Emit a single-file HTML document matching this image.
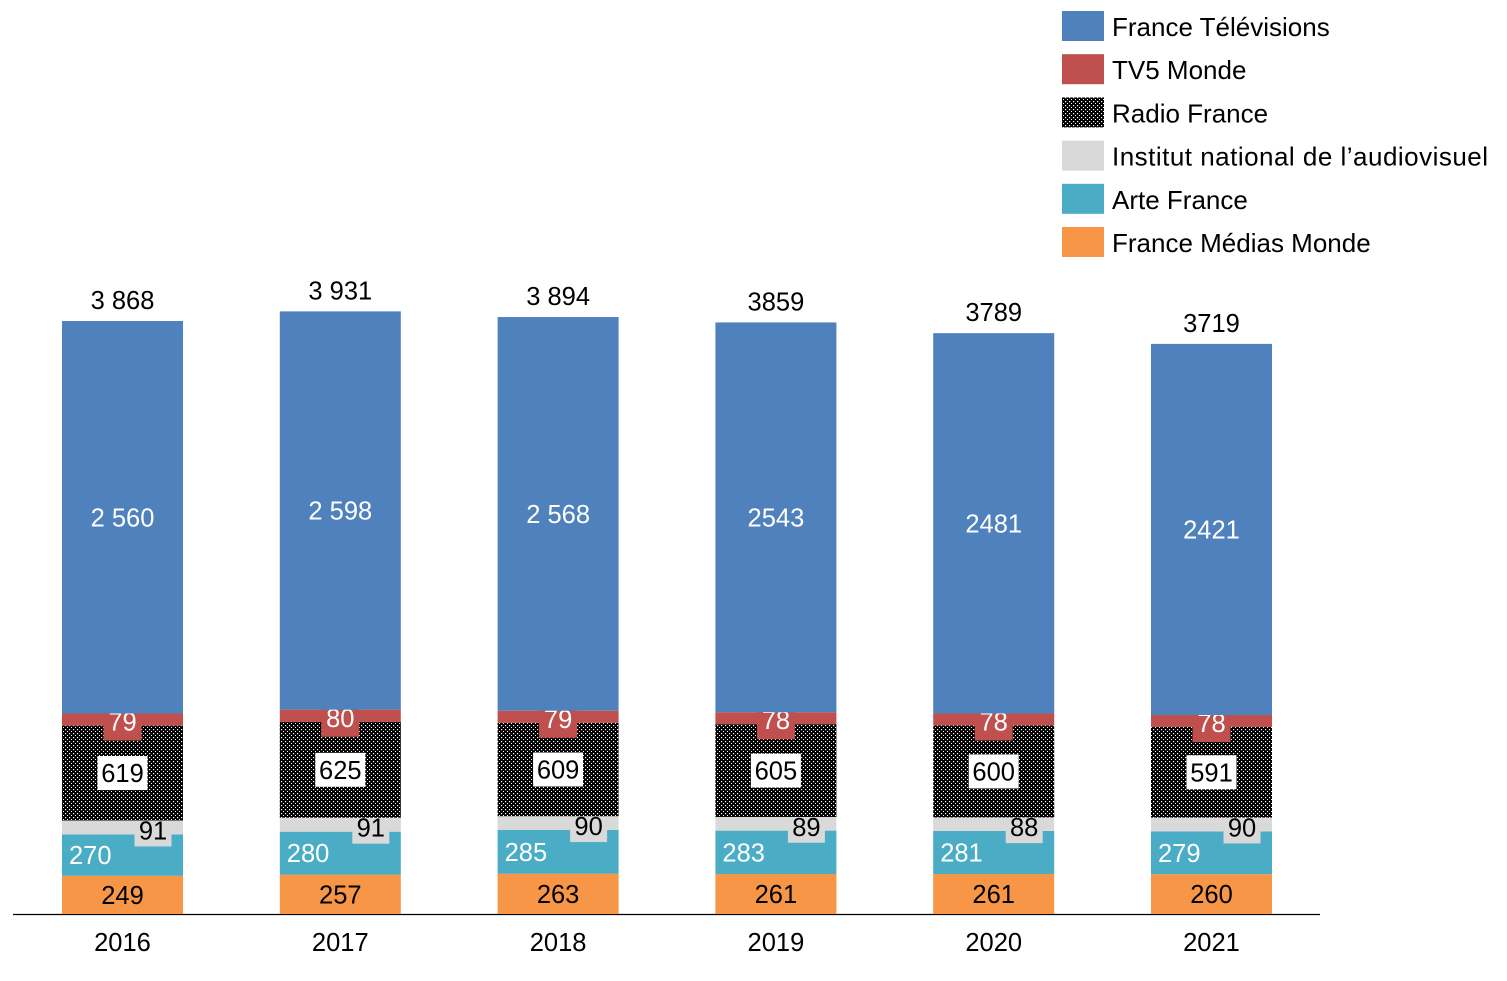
<!DOCTYPE html>
<html><head><meta charset="utf-8"><style>
body{margin:0;background:#fff;}
svg text{font-family:"Liberation Sans","DejaVu Sans",sans-serif;}
</style></head><body>
<svg id="c" width="1507" height="976" xmlns="http://www.w3.org/2000/svg">
<defs><pattern id="dots" width="4" height="4" patternUnits="userSpaceOnUse"><rect width="4" height="4" fill="#000"/><rect x="1" y="1" width="1.2" height="1.2" fill="#fff"/><rect x="3" y="3" width="1.2" height="1.2" fill="#fff"/></pattern></defs>
<line x1="13" y1="914.5" x2="1320" y2="914.5" stroke="#000" stroke-width="1.2"/>
<g id="bars"></g>
<g id="legend"></g>
</svg>
<script>
const years=["2016","2017","2018","2019","2020","2021"];
const fmm=[249,257,263,261,261,260];
const arte=[270,280,285,283,281,279];
const ina=[91,91,90,89,88,90];
const radio=[619,625,609,605,600,591];
const tv5=[79,80,79,78,78,78];
const ftv=[2560,2598,2568,2543,2481,2421];
const totals=["3 868","3 931","3 894","3859","3789","3719"];
const ftvLabels=["2 560","2 598","2 568","2543","2481","2421"];
const names=["France Télévisions","TV5 Monde","Radio France","Institut national de l’audiovisuel","Arte France","France Médias Monde"];
const NS="http://www.w3.org/2000/svg";
const base=914, k=0.1533;
const y=v=>base-v*k;
const xc=i=>122.5+i*217.8;
const bw=121;
const FS=25.5;
const g=document.getElementById('bars');
function el(t,a,p){const e=document.createElementNS(NS,t);for(const n in a)e.setAttribute(n,a[n]);(p||g).appendChild(e);return e;}
function txt(x,yy,s,fill,anchor,p){const e=el('text',{x:x,y:yy+9,'font-size':FS,fill:fill,'text-anchor':anchor||'middle'},p);e.textContent=s;return e;}
const series=[
 {d:fmm,c:"#f79646",n:"fmm"},{d:arte,c:"#4bacc6",n:"arte"},{d:ina,c:"#d9d9d9",n:"ina"},
 {d:radio,c:"url(#dots)",n:"radio-france"},{d:tv5,c:"#c0504d",n:"tv5"},{d:ftv,c:"#4f81bd",n:"ftv"}];
years.forEach((yr,i)=>{
  let cum=0;const cx=xc(i),x0=cx-bw/2;
  series.forEach(s=>{
    const v=s.d[i];const top=y(cum+v),bot=y(cum);
    const r=el('rect',{x:x0,y:top,width:bw,height:bot-top,fill:s.c});
    
    
    const mid=(top+bot)/2;
    let t;
    if(s.n=="fmm"){t=txt(cx,mid,String(v),"#000");}
    else if(s.n=="arte"){t=txt(x0+7,mid,String(v),"#fff","start");}
    else if(s.n=="ina"){const b=el('rect',{x:cx+12,y:mid-13,width:37,height:32,fill:"#d9d9d9"});t=txt(cx+30.5,mid+3,String(v),"#000");}
    else if(s.n=="radio-france"){const b=el('rect',{x:cx-25,y:mid-17,width:50,height:34,fill:"#fff"});t=txt(cx,mid,String(v),"#000");}
    else if(s.n=="tv5"){const b=el('rect',{x:cx-19,y:mid-14,width:38,height:35,fill:"#c0504d"});t=txt(cx,mid+2,String(v),"#fff");}
    else {t=txt(cx,mid,ftvLabels[i],"#fff");}
    
    
    cum+=v;
  });
  const tt=txt(cx,y(cum)-21,totals[i],"#000");
  
  
  const xl=txt(cx,942,yr,"#000");
  
  
});
const lg=document.getElementById('legend');
const lc=["#4f81bd","#c0504d","url(#dots)","#d9d9d9","#4bacc6","#f79646"];
names.forEach((n,i)=>{
  const yy=11+i*43.2;
  const r=el('rect',{x:1062,y:yy,width:42,height:30,fill:lc[i]},lg);
  
  
  const t=txt(1112,yy+16,n,"#000","start",lg);
  t.setAttribute('font-size',26);
  t.setAttribute('textLength', i==3?376:null);
  if(i!=3)t.removeAttribute('textLength');
  
  
});
</script>
</body></html>
